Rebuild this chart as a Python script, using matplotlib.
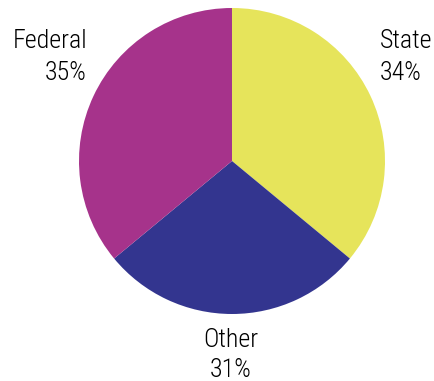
import matplotlib.pyplot as plt

#########################################################################

categories = ["State", "Other", "Federal"]
pct_labels = ["34%", "31%", "35%"]
# slice sizes as drawn in the picture (the wedges are not quite the printed percentages)
slice_sizes = [36, 28, 36]
colors = ["#E6E45B", "#33358F", "#A6338B"]

#########################################################################

W, H = 434, 381
plt.rcParams['font.family'] = ['Roboto Condensed', 'DejaVu Sans']
plt.rcParams['font.stretch'] = 'condensed'
plt.rcParams['font.weight'] = 'light'

fig = plt.figure(figsize=(W / 100, H / 100), dpi=100)
ax = fig.add_axes([0, 0, 1, 1])

cx, cy, r = 232, H - 161, 153
ax.pie(slice_sizes, colors=colors, startangle=90, counterclock=False,
       center=(cx, cy), radius=r, frame=True,
       wedgeprops=dict(linewidth=0))
ax.set_xlim(0, W)
ax.set_ylim(0, H)
ax.set_aspect('equal')
ax.axis('off')

fs = 18.7
# State: left aligned, top right
ax.text(380, H - 48, categories[0], ha='left', va='baseline', fontsize=fs)
ax.text(380, H - 80, pct_labels[0], ha='left', va='baseline', fontsize=fs)
# Other: centred below
ax.text(231, H - 347, categories[1], ha='center', va='baseline', fontsize=fs)
ax.text(231, H - 377, pct_labels[1], ha='center', va='baseline', fontsize=fs)
# Federal: right aligned, top left
ax.text(87, H - 48, categories[2], ha='right', va='baseline', fontsize=fs)
ax.text(87, H - 80, pct_labels[2], ha='right', va='baseline', fontsize=fs)

fig.savefig("out.png", dpi=100)
